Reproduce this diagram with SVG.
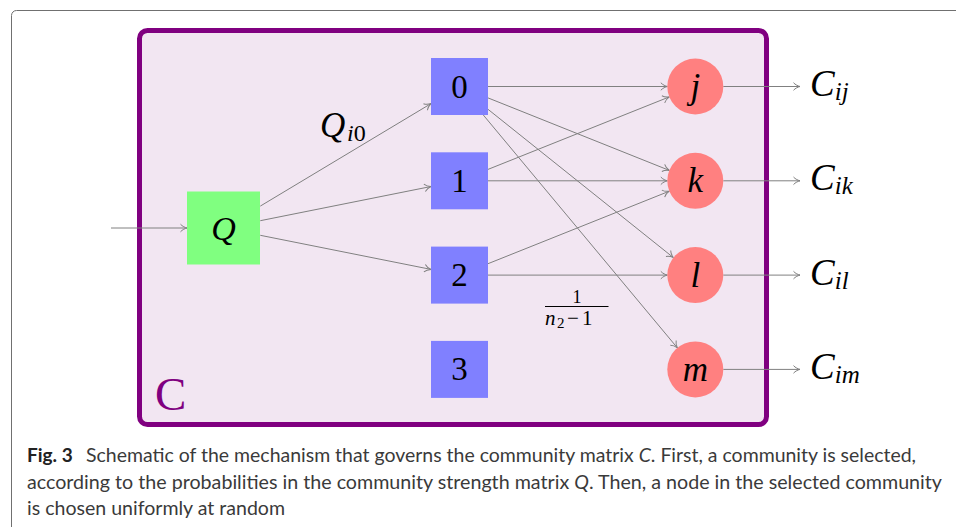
<svg xmlns="http://www.w3.org/2000/svg" width="956" height="527" viewBox="0 0 956 527">
<style>
.edge{fill:none;stroke:#808080;stroke-width:1;marker-end:url(#arr)}
.box{fill:#8080ff}
.circ{fill:#ff8080}
.lbl{text-anchor:middle;dominant-baseline:central}
</style>
<defs>
<marker id="arr" viewBox="-7 -5 8 10" refX="0" refY="0" markerWidth="8" markerHeight="10" markerUnits="userSpaceOnUse" orient="auto" overflow="visible">
<path d="M-6.5,-3.8 C-4.8,-1.7 -1.6,-0.4 0,0 C-1.6,0.4 -4.8,1.7 -6.5,3.8" fill="none" stroke="#808080" stroke-width="1"/>
</marker>
</defs>
<rect x="11.5" y="10.5" width="1000" height="600" rx="5" fill="#fff" stroke="#707070" stroke-width="1"/>
<g id="container">
<rect x="139.5" y="30.5" width="627" height="394" rx="8" fill="#f2e6f2" stroke="#800080" stroke-width="5"/>
<text x="155" y="410" font-family="'Liberation Serif', serif" font-size="47" fill="#800080">C</text>
</g>
<g id="connectors">
<line class="edge" x1="111" y1="228" x2="187" y2="228"/>
<line class="edge" x1="260.3" y1="206.1" x2="431" y2="103.6"/>
<line class="edge" x1="260.3" y1="220.7" x2="431" y2="186.5"/>
<line class="edge" x1="260.3" y1="235.3" x2="431" y2="269.4"/>
<line class="edge" x1="488" y1="86.5" x2="667.3" y2="86.5"/>
<line class="edge" x1="488" y1="97.9" x2="669.3" y2="170.4"/>
<line class="edge" x1="488" y1="109.3" x2="673.4" y2="257.6"/>
<line class="edge" x1="483.3" y1="115" x2="677.4" y2="347.9"/>
<line class="edge" x1="488" y1="169.4" x2="669.3" y2="96.9"/>
<line class="edge" x1="488" y1="180.8" x2="667.3" y2="180.8"/>
<line class="edge" x1="488" y1="263.7" x2="669.3" y2="191.2"/>
<line class="edge" x1="488" y1="275.1" x2="667.3" y2="275.1"/>
<line class="edge" x1="723.3" y1="86.5" x2="800" y2="86.5"/>
<line class="edge" x1="723.3" y1="180.8" x2="800" y2="180.8"/>
<line class="edge" x1="723.3" y1="275.1" x2="800" y2="275.1"/>
<line class="edge" x1="723.3" y1="369.4" x2="800" y2="369.4"/>
<text font-family="'Liberation Serif', serif" x="320" y="137" font-size="35"><tspan font-style="italic">Q</tspan><tspan x="347" font-size="24" dy="4"><tspan font-style="italic">i</tspan>0</tspan></text>
<text font-family="'Liberation Serif', serif" x="577" y="303" font-size="18" text-anchor="middle">1</text>
<line x1="545" y1="306.5" x2="608.5" y2="306.5" stroke="#000" stroke-width="1"/>
<text font-family="'Liberation Serif', serif" x="545" y="325" font-size="21"><tspan font-style="italic">n</tspan><tspan x="557" font-size="15" dy="3">2</tspan><tspan x="567" dy="-3">−</tspan><tspan x="582">1</tspan></text>
</g>
<g id="node-Q">
<rect x="187" y="191.5" width="73" height="73" fill="#80ff80"/>
<text font-family="'Liberation Serif', serif" font-size="34" font-style="italic" class="lbl" x="223.5" y="228">Q</text>
</g>
<g id="node-0"><rect class="box" x="431" y="58" width="57" height="57"/><text font-family="'Liberation Serif', serif" font-size="33" class="lbl" x="459.5" y="86.5">0</text></g>
<g id="node-1"><rect class="box" x="431" y="152.3" width="57" height="57"/><text font-family="'Liberation Serif', serif" font-size="33" class="lbl" x="459.5" y="180.8">1</text></g>
<g id="node-2"><rect class="box" x="431" y="246.6" width="57" height="57"/><text font-family="'Liberation Serif', serif" font-size="33" class="lbl" x="459.5" y="275.1">2</text></g>
<g id="node-3"><rect class="box" x="431" y="340.9" width="57" height="57"/><text font-family="'Liberation Serif', serif" font-size="33" class="lbl" x="459.5" y="369.4">3</text></g>
<g id="node-j"><circle class="circ" cx="695.3" cy="86.5" r="28"/><text font-family="'Liberation Serif', serif" font-size="35" font-style="italic" class="lbl" x="695.3" y="86.5">j</text></g>
<g id="node-k"><circle class="circ" cx="695.3" cy="180.8" r="28"/><text font-family="'Liberation Serif', serif" font-size="35" font-style="italic" class="lbl" x="695.3" y="180.8">k</text></g>
<g id="node-l"><circle class="circ" cx="695.3" cy="275.1" r="28"/><text font-family="'Liberation Serif', serif" font-size="35" font-style="italic" class="lbl" x="695.3" y="275.1">l</text></g>
<g id="node-m"><circle class="circ" cx="695.3" cy="369.4" r="28"/><text font-family="'Liberation Serif', serif" font-size="35" font-style="italic" class="lbl" x="695.3" y="369.4">m</text></g>
<g id="outputs">
<text font-family="'Liberation Serif', serif" x="810" y="96" font-size="37"><tspan font-style="italic">C</tspan><tspan font-style="italic" font-size="25" dy="4">ij</tspan></text>
<text font-family="'Liberation Serif', serif" x="810" y="190.3" font-size="37"><tspan font-style="italic">C</tspan><tspan font-style="italic" font-size="25" dy="4">ik</tspan></text>
<text font-family="'Liberation Serif', serif" x="810" y="284.6" font-size="37"><tspan font-style="italic">C</tspan><tspan font-style="italic" font-size="25" dy="4">il</tspan></text>
<text font-family="'Liberation Serif', serif" x="810" y="378.9" font-size="37"><tspan font-style="italic">C</tspan><tspan font-style="italic" font-size="25" dy="4">im</tspan></text>
</g>
<g id="caption" font-family="'Lato', sans-serif" font-size="19" fill="#3a3a3a">
<text x="27" y="462" font-weight="bold" fill="#222">Fig. 3</text>
<text x="86" y="462" textLength="830" lengthAdjust="spacingAndGlyphs">Schematic of the mechanism that governs the community matrix <tspan font-style="italic">C</tspan>. First, a community is selected,</text>
<text x="27" y="488.5" textLength="915" lengthAdjust="spacingAndGlyphs">according to the probabilities in the community strength matrix <tspan font-style="italic">Q</tspan>. Then, a node in the selected community</text>
<text x="27" y="515" textLength="258" lengthAdjust="spacingAndGlyphs">is chosen uniformly at random</text>
</g>
</svg>
